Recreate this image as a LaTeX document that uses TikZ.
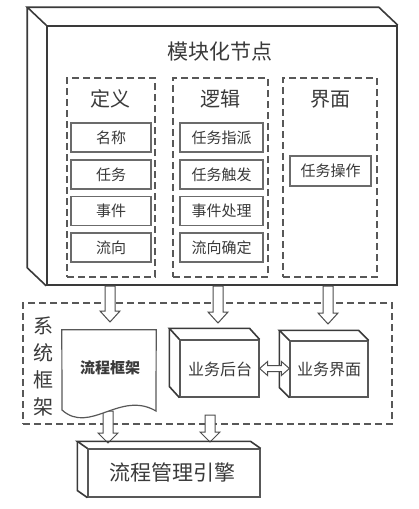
\documentclass[tikz,border=0pt]{standalone}
\usepackage{fontspec}
\newfontfamily\cjk{Noto Sans CJK SC}
\usetikzlibrary{calc}
\definecolor{ink}{HTML}{3A3A3A}
\newcommand\threed[3]{%
  \draw[boxline] (#1.north west) -- ++(#2,#3) -- ($(#1.north east)+(#2,#3)$) -- (#1.north east);
  \draw[boxline] ($(#1.north west)+(#2,#3)$) -- ($(#1.south west)+(#2,#3)$) -- (#1.south west);}
\newcommand\hdown[3]{%
  \draw[hollow] let \p1=(#1), \p2=(#2) in
    (\x1-5pt,\y1) -- (\x1-5pt,\y2+#3) -- (\x1-10pt,\y2+#3) -- (\x1,\y2)
    -- (\x1+10pt,\y2+#3) -- (\x1+5pt,\y2+#3) -- (\x1+5pt,\y1) -- cycle;}
\newcommand\hdouble[2]{%
  \draw[hollow] let \p1=(#1), \p2=(#2) in
    (\x1,\y1) -- (\x1+8pt,\y1+7pt) -- (\x1+8pt,\y1+3pt) -- (\x2-8pt,\y1+3pt)
    -- (\x2-8pt,\y1+7pt) -- (\x2,\y1) -- (\x2-8pt,\y1-7pt) -- (\x2-8pt,\y1-3pt)
    -- (\x1+8pt,\y1-3pt) -- (\x1+8pt,\y1-7pt) -- cycle;}
\begin{document}
\begin{tikzpicture}[x=1pt,y=-1pt,
  boxline/.style={draw=ink, line width=1.6pt, line join=miter},
  front/.style={boxline, fill=white, inner sep=0},
  dashbox/.style={draw=ink!85, line width=1.3pt, dash pattern=on 7pt off 4pt, inner sep=0},
  item/.style={draw=ink!75, line width=1.4pt, fill=white, inner sep=0, minimum height=29pt,
    text=ink, font=\cjk\fontsize{15}{15}\selectfont},
  hollow/.style={draw=ink!90, line width=1pt, fill=white, line join=miter},
  lbl/.style={inner sep=0, text=ink},
  smallbox/.style={draw=ink!85, line width=1.2pt, fill=white, inner sep=0, line join=miter}]
\useasboundingbox[fill=white] (0,0) rectangle (418,509);

% module node
\node[front, minimum width=350pt, minimum height=259pt] (mod) at (222,155.5) {};
\threed{mod}{-19}{-18}
\node[lbl, font=\cjk\fontsize{21}{21}\selectfont] (title) at (220,52) {模块化节点};

\node[dashbox, minimum width=88pt, minimum height=199pt] (cdef) at (111,177.5) {};
\node[dashbox, minimum width=95pt, minimum height=199pt] (clog) at (220.5,177.5) {};
\node[dashbox, minimum width=94pt, minimum height=199pt] (cui) at (330,177.5) {};

\node[lbl, font=\cjk\fontsize{20}{20}\selectfont] (hdef) at (110,99) {定义};
\node[lbl, font=\cjk\fontsize{20}{20}\selectfont] (hlog) at (220,99) {逻辑};
\node[lbl, font=\cjk\fontsize{20}{20}\selectfont] (hui) at (330,99) {界面};

\node[item, minimum width=80pt] (d1) at (111,137.5) {名称};
\node[item, minimum width=80pt] (d2) at (111,174.5) {任务};
\node[item, minimum width=80pt] (d3) at (111,211) {事件};
\node[item, minimum width=80pt] (d4) at (111,247.5) {流向};

\node[item, minimum width=83pt] (l1) at (221.5,137.5) {任务指派};
\node[item, minimum width=83pt] (l2) at (221.5,174.5) {任务触发};
\node[item, minimum width=83pt] (l3) at (221.5,211) {事件处理};
\node[item, minimum width=83pt] (l4) at (221.5,247.5) {流向确定};

\node[item, minimum width=81pt, minimum height=30pt] (u1) at (330.5,171) {任务操作};

% system frame
\node[dashbox, minimum width=369pt, minimum height=121pt] (frame) at (207.5,363.5) {};
\node[lbl, align=center, font=\cjk\fontsize{20}{27}\selectfont] (sys) at (43,366) {系\\统\\框\\架};

% arrows from module
\coordinate (a1s) at (110,286); \coordinate (a1e) at (110,322);
\coordinate (a2s) at (218,286); \coordinate (a2e) at (218,323);
\coordinate (a3s) at (328,286); \coordinate (a3e) at (328,324);
\hdown{a1s}{a1e}{11pt}
\hdown{a2s}{a2e}{11pt}
\hdown{a3s}{a3e}{11pt}

% arrows to engine
\coordinate (b1s) at (108,411); \coordinate (b1e) at (108,443);
\coordinate (b2s) at (210,415); \coordinate (b2e) at (210,442);
\hdown{b1s}{b1e}{10pt}
\hdown{b2s}{b2e}{10pt}

% document shape
\node[inner sep=0, minimum width=94pt, minimum height=81pt] (doc) at (109,370.5) {};
\draw[smallbox] (doc.north west) -- (doc.north east) -- (156,411)
  .. controls (120,390) and (90,435) .. (62,410) -- cycle;
\node[lbl, font=\cjk\bfseries\fontsize{15}{15}\selectfont] (doct) at (110,368) {流程框架};

% backend boxes
\node[smallbox, minimum width=79pt, minimum height=57pt] (bk) at (219.5,368.5) {};
\threed{bk}{-10}{-11}
\node[smallbox, minimum width=78pt, minimum height=56pt] (ui) at (329,369) {};
\threed{ui}{-10}{-10}
\node[lbl, font=\cjk\fontsize{16}{16}\selectfont] (bkt) at (220,369) {业务后台};
\node[lbl, font=\cjk\fontsize{16}{16}\selectfont] (uit) at (329,369) {业务界面};
\hdouble{bk.east}{ui.west}

% engine
\node[smallbox, minimum width=172pt, minimum height=48pt] (eng) at (174,473) {};
\threed{eng}{-10}{-7}
\node[lbl, font=\cjk\fontsize{21}{21}\selectfont] (engt) at (172,472) {流程管理引擎};
\end{tikzpicture}
\end{document}
